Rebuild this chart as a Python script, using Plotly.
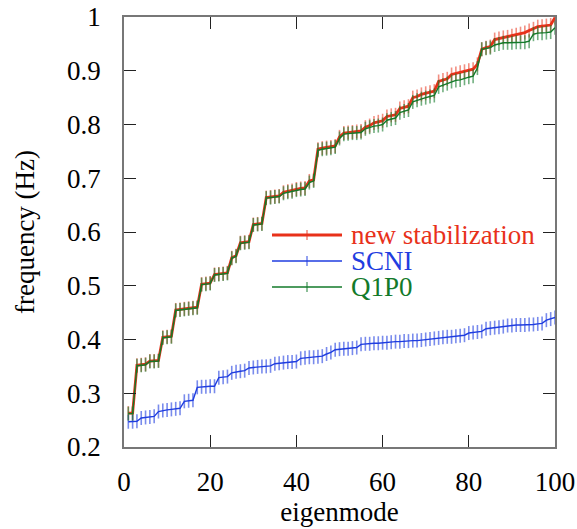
import plotly.graph_objects as go

modes = list(range(1, 101))

new_stab = [
    0.263, 0.263, 0.352, 0.353, 0.354, 0.360, 0.360, 0.361, 0.404, 0.405,
    0.406, 0.455, 0.456, 0.457, 0.458, 0.459, 0.460, 0.503, 0.504, 0.505,
    0.521, 0.522, 0.523, 0.524, 0.552, 0.556, 0.580, 0.581, 0.582, 0.614,
    0.615, 0.616, 0.664, 0.665, 0.666, 0.667, 0.674, 0.676, 0.677, 0.680,
    0.681, 0.682, 0.695, 0.697, 0.754, 0.756, 0.757, 0.758, 0.760, 0.777,
    0.784, 0.785, 0.786, 0.787, 0.788, 0.795, 0.798, 0.803, 0.805, 0.807,
    0.815, 0.817, 0.818, 0.830, 0.832, 0.834, 0.850, 0.852, 0.856, 0.858,
    0.860, 0.862, 0.880, 0.883, 0.885, 0.893, 0.895, 0.897, 0.899, 0.901,
    0.903, 0.912, 0.940, 0.943, 0.945, 0.958, 0.960, 0.962, 0.963, 0.965,
    0.967, 0.969, 0.971, 0.975, 0.978, 0.982, 0.983, 0.984, 0.985, 0.999,
]

scni = [
    0.247, 0.247, 0.248, 0.254, 0.255, 0.256, 0.257, 0.266, 0.268, 0.269,
    0.270, 0.271, 0.272, 0.285, 0.286, 0.287, 0.311, 0.312, 0.312, 0.313,
    0.313, 0.329, 0.330, 0.331, 0.338, 0.340, 0.341, 0.342, 0.347, 0.348,
    0.349, 0.350, 0.350, 0.351, 0.355, 0.356, 0.357, 0.358, 0.358, 0.359,
    0.365, 0.366, 0.367, 0.367, 0.368, 0.369, 0.373, 0.376, 0.381, 0.382,
    0.383, 0.383, 0.384, 0.385, 0.391, 0.392, 0.392, 0.393, 0.393, 0.394,
    0.394, 0.395, 0.396, 0.396, 0.397, 0.397, 0.398, 0.398, 0.399, 0.400,
    0.401, 0.402, 0.403, 0.404, 0.405, 0.405, 0.406, 0.407, 0.408, 0.412,
    0.413, 0.414, 0.415, 0.420, 0.421, 0.422, 0.423, 0.424, 0.426, 0.426,
    0.427, 0.427, 0.427, 0.428, 0.428, 0.429, 0.430, 0.436, 0.438, 0.441,
]

q1p0 = [
    0.262, 0.262, 0.351, 0.352, 0.353, 0.359, 0.359, 0.360, 0.403, 0.404,
    0.405, 0.454, 0.455, 0.456, 0.457, 0.458, 0.459, 0.502, 0.503, 0.504,
    0.520, 0.521, 0.522, 0.523, 0.551, 0.555, 0.579, 0.580, 0.581, 0.613,
    0.614, 0.615, 0.663, 0.664, 0.665, 0.666, 0.672, 0.674, 0.675, 0.678,
    0.679, 0.680, 0.692, 0.695, 0.752, 0.754, 0.755, 0.756, 0.758, 0.774,
    0.782, 0.783, 0.784, 0.784, 0.785, 0.792, 0.795, 0.797, 0.798, 0.800,
    0.808, 0.810, 0.812, 0.822, 0.825, 0.827, 0.842, 0.845, 0.848, 0.850,
    0.852, 0.854, 0.870, 0.873, 0.876, 0.880, 0.882, 0.883, 0.886, 0.888,
    0.890, 0.905, 0.940, 0.942, 0.943, 0.948, 0.950, 0.952, 0.952, 0.952,
    0.953, 0.953, 0.953, 0.955, 0.968, 0.970, 0.970, 0.971, 0.972, 0.980,
]

series_names = ["new stabilization", "SCNI", "Q1P0"]
series_colors = ["#e8311a", "#1f3de0", "#137a2a"]
marker_colors = ["rgba(232,49,26,0.55)", "rgba(31,61,224,0.6)", "rgba(19,122,42,0.6)"]
line_widths = [2.8, 1.4, 1.4]
series_values = [new_stab, scni, q1p0]

x_ticks = [0, 20, 40, 60, 80, 100]
y_ticks = [0.2, 0.3, 0.4, 0.5, 0.6, 0.7, 0.8, 0.9, 1.0]
y_tick_text = ["0.2", "0.3", "0.4", "0.5", "0.6", "0.7", "0.8", "0.9", "1"]

FONT = "Liberation Serif, Times New Roman, serif"
FS = 27

fig = go.Figure()
for name, vals, col, mcol, lw in zip(series_names, series_values, series_colors, marker_colors, line_widths):
    fig.add_trace(go.Scatter(
        x=modes, y=vals, name=name, mode="lines+markers",
        line=dict(color=col, width=lw),
        marker=dict(symbol="line-ns", size=10, line=dict(color=mcol, width=1.6)),
        showlegend=False,
    ))

# manual legend (paper coords)
shapes = []
annotations = []
leg_y = [0.493, 0.4326, 0.372]
for name, col, mcol, lw, yy in zip(series_names, series_colors, marker_colors, line_widths, leg_y):
    shapes.append(dict(type="line", xref="paper", yref="paper", x0=0.3434, x1=0.5058,
                       y0=yy, y1=yy, line=dict(color=col, width=lw)))
    shapes.append(dict(type="line", xref="paper", yref="paper", x0=0.4246, x1=0.4246,
                       y0=yy - 0.0116, y1=yy + 0.0116, line=dict(color=mcol, width=1.6)))
    annotations.append(dict(xref="paper", yref="paper", x=0.522, y=yy, xanchor="left",
                            yanchor="middle", showarrow=False, text=name, height=26,
                            font=dict(family=FONT, size=FS, color=col)))

fig.update_layout(
    width=577, height=529,
    margin=dict(l=124, r=22, t=17, b=82, autoexpand=False),
    paper_bgcolor="white", plot_bgcolor="white",
    font=dict(family=FONT, size=FS, color="black"),
    shapes=shapes, annotations=annotations,
    xaxis=dict(
        range=[0, 100], tickvals=x_ticks, ticks="inside", ticklen=12, tickwidth=1.3,
        tickcolor="#222", showline=True, linecolor="#777", linewidth=1.6, mirror="ticks",
        showgrid=False, zeroline=False, ticklabelstandoff=10, automargin=False,
        ticklabeloverflow="allow",
        title=dict(text="eigenmode", standoff=0, font=dict(size=FS)),
        tickfont=dict(size=FS),
    ),
    yaxis=dict(
        range=[0.2, 1.0], tickvals=y_ticks, ticktext=y_tick_text, ticks="inside", ticklen=12,
        tickwidth=1.3, tickcolor="#222", showline=True, linecolor="#777", linewidth=1.6,
        mirror="ticks", showgrid=False, zeroline=False, ticklabelstandoff=16, automargin=False,
        ticklabeloverflow="allow",
        title=dict(text="frequency (Hz)", standoff=25, font=dict(size=FS)),
        tickfont=dict(size=FS),
    ),
)

# remove the default 8px page margin so the figure fills the window exactly
fig.write_html("out.html", config={"displayModeBar": False},
               post_script="document.body.style.margin='0';")
